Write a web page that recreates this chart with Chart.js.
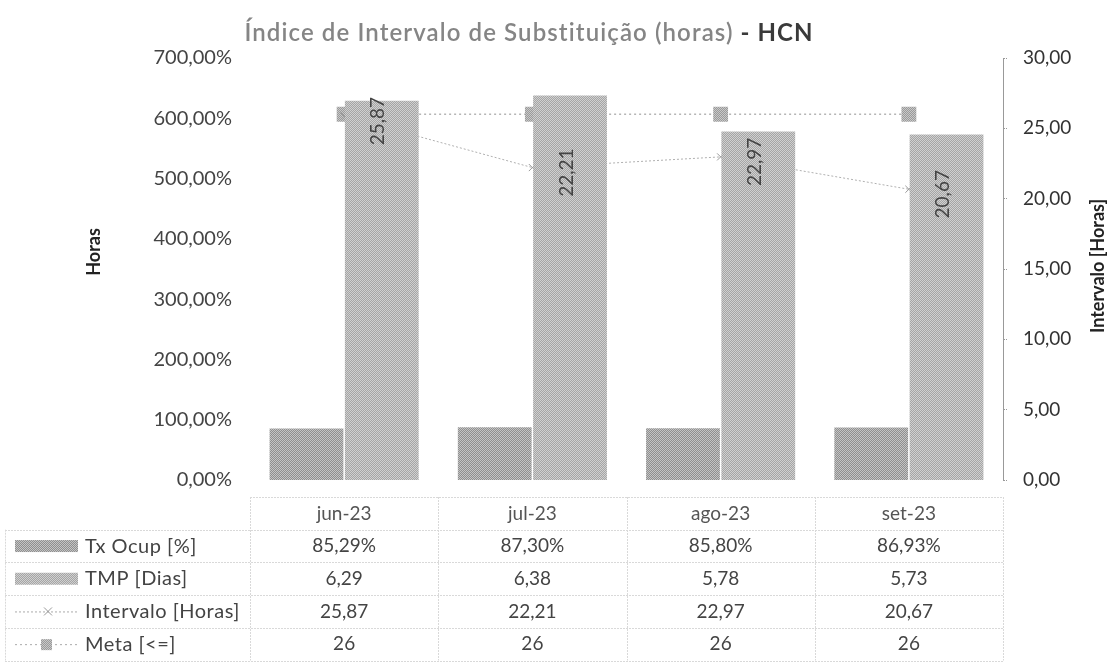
<!DOCTYPE html>
<html>
<head>
<meta charset="utf-8">
<script src="https://cdn.jsdelivr.net/npm/chart.js@4.4.0/dist/chart.umd.min.js"></script>
<style>
  html, body { margin: 0; padding: 0; background: #fff; }
  #wrap { width: 1111px; height: 668px; position: relative; }
</style>
</head>
<body>
<div id="wrap"><canvas id="c" width="1111" height="668"></canvas></div>
<script>
const categories = ['jun-23', 'jul-23', 'ago-23', 'set-23'];
const txOcup = [0.8529, 0.8730, 0.8580, 0.8693];   // Tx Ocup [%] (fraction)
const tmpDias = [6.29, 6.38, 5.78, 5.73];            // TMP [Dias]
const intervalo = [25.87, 22.21, 22.97, 20.67];      // Intervalo [Horas]
const meta = [26, 26, 26, 26];                       // Meta [<=]
const leftTicks = [0, 1, 2, 3, 4, 5, 6, 7];
const rightTicks = [0, 5, 10, 15, 20, 25, 30];
const titleMain = 'Índice de Intervalo de Substituição (horas)';
const titleTail = ' - HCN';
const leftAxisTitle = 'Horas';
const rightAxisTitle = 'Intervalo [Horas]';
const seriesNames = ['Tx Ocup [%]', 'TMP [Dias]', 'Intervalo [Horas]', 'Meta [<=]'];

const FONT = 'Lato, "Open Sans", sans-serif';

function makePattern(c1, c2) {
  const p = document.createElement('canvas');
  p.width = 2; p.height = 2;
  const g = p.getContext('2d');
  g.fillStyle = c1; g.fillRect(0, 0, 2, 2);
  g.fillStyle = c2; g.fillRect(0, 0, 1, 1); g.fillRect(1, 1, 1, 1);
  return g.createPattern(p, 'repeat');
}
const patTx = makePattern('#8f8f8f', '#c4c4c4');
const patTmp = makePattern('#a5a5a5', '#d0d0d0');
const patMeta = makePattern('#9a9a9a', '#c8c8c8');

const fmt2 = v => v.toFixed(2).replace('.', ',');
const pct = v => (v * 100).toFixed(2).replace('.', ',') + '%';

const tablePlugin = {
  id: 'tablePlugin',
  afterDatasetsDraw(chart) {
    const ctx = chart.ctx;
    const meta2 = chart.getDatasetMeta(2);
    ctx.save();
    ctx.font = '19px ' + FONT;
    ctx.fillStyle = '#444';
    ctx.textAlign = 'center';
    ctx.textBaseline = 'middle';
    meta2.data.forEach((pt, i) => {
      ctx.save();
      ctx.translate(pt.x + 34, pt.y + 5);
      ctx.rotate(-Math.PI / 2);
      ctx.fillText(fmt2(intervalo[i]), 0, 0);
      ctx.restore();
    });
    ctx.restore();
  },
  afterDraw(chart) {
    const ctx = chart.ctx;
    const xs = chart.scales.x;
    const ca = chart.chartArea;
    const n = categories.length;
    const colW = (ca.right - ca.left) / n;
    const rowTop = 497, rowH = 32.7;
    const tableLeft = 5;
    ctx.save();
    // title
    ctx.textBaseline = 'middle';
    ctx.letterSpacing = '1.1px';
    ctx.font = '600 24px ' + FONT;
    const w1 = ctx.measureText(titleMain).width;
    ctx.font = 'bold 24px ' + FONT;
    const w2 = ctx.measureText(titleTail).width;
    const tx0 = 529 - (w1 + w2) / 2;
    ctx.textAlign = 'left';
    ctx.font = '600 24px ' + FONT;
    ctx.fillStyle = '#858585';
    ctx.fillText(titleMain, tx0, 33);
    ctx.font = 'bold 24px ' + FONT;
    ctx.fillStyle = '#3a3a3a';
    ctx.fillText(titleTail, tx0 + w1, 33);
    ctx.letterSpacing = '0px';

    // axis titles
    ctx.font = 'bold 18px ' + FONT;
    ctx.fillStyle = '#222';
    ctx.textAlign = 'center';
    ctx.save(); ctx.translate(94, 252); ctx.rotate(-Math.PI / 2); ctx.fillText(leftAxisTitle, 0, 0); ctx.restore();
    ctx.save(); ctx.translate(1098, 266); ctx.rotate(-Math.PI / 2); ctx.fillText(rightAxisTitle, 0, 0); ctx.restore();

    // grid lines
    ctx.strokeStyle = '#d9d9d9';
    ctx.lineWidth = 1;
    ctx.setLineDash([2, 1]);
    ctx.beginPath();
    ctx.moveTo(ca.left, rowTop + 0.5); ctx.lineTo(ca.right, rowTop + 0.5);
    for (let r = 1; r <= 5; r++) {
      const y = Math.round(rowTop + r * rowH) + 0.5;
      ctx.moveTo(tableLeft, y); ctx.lineTo(ca.right, y);
    }
    for (let c = 0; c <= n; c++) {
      const x = Math.round(ca.left + c * colW) + 0.5;
      ctx.moveTo(x, rowTop); ctx.lineTo(x, rowTop + 5 * rowH);
    }
    ctx.moveTo(tableLeft + 0.5, rowTop + rowH); ctx.lineTo(tableLeft + 0.5, rowTop + 5 * rowH);
    ctx.stroke();
    ctx.setLineDash([]);

    // header
    ctx.font = '19px ' + FONT;
    ctx.fillStyle = '#555';
    ctx.textAlign = 'center';
    categories.forEach((c, i) => {
      ctx.fillText(c, xs.getPixelForValue(i), rowTop + rowH / 2 + 1);
    });
    const rows = [
      txOcup.map(pct),
      tmpDias.map(fmt2),
      intervalo.map(fmt2),
      meta.map(v => String(v))
    ];
    rows.forEach((vals, r) => {
      const cy = rowTop + (r + 1.5) * rowH;
      ctx.font = '19px ' + FONT;
      vals.forEach((v, i) => {
        ctx.fillStyle = '#444';
        ctx.textAlign = 'center';
        ctx.fillText(v, xs.getPixelForValue(i), cy);
      });
      // legend key
      ctx.textAlign = 'left';
      ctx.fillStyle = '#444';
      ctx.font = '20px ' + FONT;
      ctx.letterSpacing = '0.5px';
      ctx.fillText(seriesNames[r], 85, cy);
      ctx.letterSpacing = '0px';
      if (r === 0 || r === 1) {
        ctx.fillStyle = r === 0 ? patTx : patTmp;
        ctx.fillRect(15, cy - 6, 63, 12);
      } else if (r === 2) {
        ctx.strokeStyle = '#aaa';
        ctx.setLineDash([2, 2]);
        ctx.beginPath(); ctx.moveTo(15, cy + 0.5); ctx.lineTo(78, cy + 0.5); ctx.stroke();
        ctx.setLineDash([]);
        ctx.strokeStyle = '#999';
        ctx.beginPath();
        ctx.moveTo(44, cy - 4); ctx.lineTo(52, cy + 4);
        ctx.moveTo(52, cy - 4); ctx.lineTo(44, cy + 4);
        ctx.stroke();
      } else {
        ctx.strokeStyle = '#aaa';
        ctx.setLineDash([2, 3]);
        ctx.beginPath(); ctx.moveTo(15, cy + 0.5); ctx.lineTo(78, cy + 0.5); ctx.stroke();
        ctx.setLineDash([]);
        ctx.fillStyle = patMeta;
        ctx.fillRect(41, cy - 5, 11, 11);
      }
    });
    ctx.restore();
  }
};

new Chart(document.getElementById('c'), {
  data: {
    labels: categories,
    datasets: [
      { type: 'bar', label: seriesNames[0], data: txOcup, yAxisID: 'y',
        backgroundColor: patTx, borderWidth: 0, order: 1,
        categoryPercentage: 0.8, barPercentage: 0.98 },
      { type: 'bar', label: seriesNames[1], data: tmpDias, yAxisID: 'y',
        backgroundColor: patTmp, borderWidth: 0, order: 1,
        categoryPercentage: 0.8, barPercentage: 0.98 },
      { type: 'line', label: seriesNames[2], data: intervalo, yAxisID: 'y1',
        borderColor: '#b0b0b0', borderWidth: 1, borderDash: [2, 2],
        pointStyle: 'crossRot', pointRadius: 5, pointBorderColor: '#999',
        pointBorderWidth: 1, order: 2, tension: 0, fill: false },
      { type: 'line', label: seriesNames[3], data: meta, yAxisID: 'y1',
        borderColor: '#b5b5b5', borderWidth: 1.5, borderDash: [2, 3],
        pointStyle: 'rect', pointRadius: 10.5, pointBackgroundColor: patMeta,
        pointBorderWidth: 0, order: 2, tension: 0, fill: false }
    ]
  },
  options: {
    responsive: false,
    animation: false,
    layout: { padding: { top: 58, bottom: 188, left: 80, right: 0 } },
    plugins: {
      legend: { display: false },
      title: { display: false },
      tooltip: { enabled: false }
    },
    scales: {
      x: { type: 'category', display: false, offset: true,
           grid: { display: false } },
      y: {
        position: 'left', min: 0, max: 7,
        afterBuildTicks: s => { s.ticks = leftTicks.map(v => ({ value: v })); },
        afterFit: s => { s.width = 170; },
        grid: { display: false, drawTicks: false },
        border: { display: false },
        ticks: { callback: v => pct(v), font: { family: FONT, size: 20 }, color: '#444', padding: 18 },
        title: { display: false }
      },
      y1: {
        position: 'right', min: 0, max: 30,
        afterBuildTicks: s => { s.ticks = rightTicks.map(v => ({ value: v })); },
        afterFit: s => { s.width = 108; },
        grid: { display: true, drawOnChartArea: false, drawTicks: true, tickLength: 4, color: '#999', tickBorderDash: [1, 1] },
        border: { display: true, color: '#999', dash: [1, 2] },
        ticks: { callback: v => fmt2(v), font: { family: FONT, size: 19 }, color: '#333', padding: 16 },
        title: { display: false }
      }
    }
  },
  plugins: [tablePlugin]
});
</script>
</body>
</html>
